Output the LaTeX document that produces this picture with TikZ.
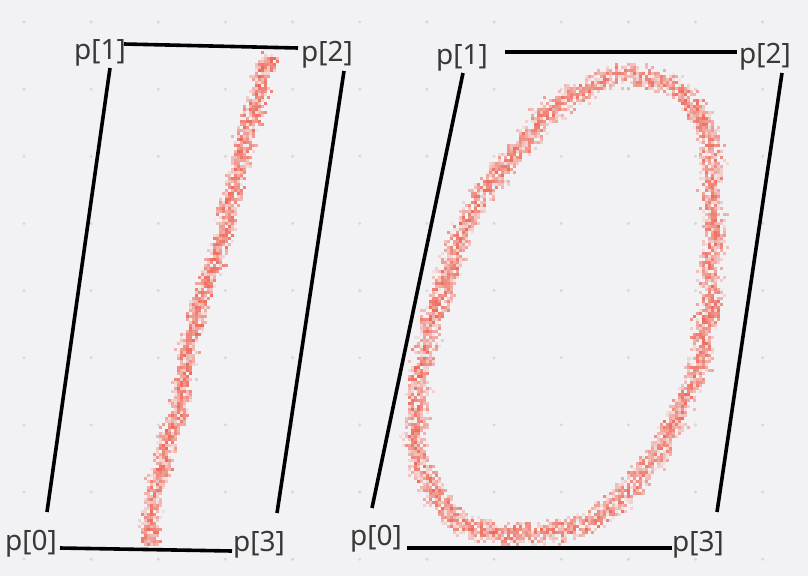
\documentclass[tikz,border=0pt]{standalone}
\usepackage{fontspec}
\setmainfont{Noto Sans}
\definecolor{bg}{HTML}{F2F2F4}
\definecolor{dotc}{HTML}{D9D9DC}
\definecolor{lab}{HTML}{383838}
\definecolor{ink}{RGB}{240,104,88}
\gdef\wwg{0}
\begin{document}
\begin{tikzpicture}[x=1pt,y=-1pt,
  edge/.style={line width=3.6pt, black},
  lbl/.style={font=\fontsize{28}{28}\selectfont, text=lab, inner sep=0pt, anchor=base},
  pix/.style={fill=ink}]
\pgfmathsetseed{4242}
\useasboundingbox (0,0) rectangle (808,576);
\fill[bg] (0,0) rectangle (808,576);
\foreach \i in {0,...,11} \foreach \j in {0,...,8} \fill[dotc] ({24+67.15*\i},{22+67.15*\j}) circle (1.7pt);

% noisy stroke, left
\foreach \x/\y [remember=\x as \px (initially 147), remember=\y as \py (initially 545)] in
  {147/530, 150/503, 160/470, 165/437, 177/417, 182/383, 188/350, 195/323, 203/297, 210/267, 220/240, 227/213, 233/187, 240/160, 241/140, 247/120, 253/100, 263/73, 270/55}{
  \pgfmathsetmacro\len{veclen(\x-\px,\y-\py)}
  \pgfmathtruncatemacro\nn{max(1,round(\len/1.8))}
  \pgfmathsetmacro\nnx{-(\y-\py)/\len}
  \pgfmathsetmacro\nny{(\x-\px)/\len}
  \foreach \s in {1,...,\nn}{
    \pgfmathsetmacro\ww{max(-6,min(6,0.9*\wwg+1.3*rand))}
    \global\let\wwg\ww
    \pgfmathsetmacro\cx{\px+(\x-\px)*\s/\nn}
    \pgfmathsetmacro\cy{\py+(\y-\py)*\s/\nn}
    \pgfmathsetmacro\gop{0.55+0.7*rnd}
    \foreach \k in {1,...,7}{
      \pgfmathsetmacro\dd{\ww+5.5*(rand+rand)}
      \pgfmathsetmacro\qx{3*round((\cx+\dd*\nnx+2*rand)/3)}
      \pgfmathsetmacro\qy{3*round((\cy+\dd*\nny+2*rand)/3)}
      \pgfmathsetmacro\op{min(0.85,\gop*(0.12+0.55*rnd))}
      \fill[pix,fill opacity=\op] (\qx,\qy) rectangle ++(3,3);
    }
  }
}
% noisy stroke, loop
\gdef\wwg{0}
\foreach \x/\y [remember=\x as \px (initially 637), remember=\y as \py (initially 73)] in
  {663/80, 690/100, 707/123, 712/157, 710/190, 712/223, 712/257, 709/297, 703/330, 697/367, 680/400, 667/433, 647/463, 617/500, 590/520, 563/530, 533/533, 500/533, 467/527, 440/507, 423/477, 413/440, 415/400, 418/363, 427/333, 438/292, 453/250, 467/217, 483/190, 500/163, 517/147, 543/113, 577/93, 603/78, 637/73}{
  \pgfmathsetmacro\len{veclen(\x-\px,\y-\py)}
  \pgfmathtruncatemacro\nn{max(1,round(\len/1.8))}
  \pgfmathsetmacro\nnx{-(\y-\py)/\len}
  \pgfmathsetmacro\nny{(\x-\px)/\len}
  \foreach \s in {1,...,\nn}{
    \pgfmathsetmacro\ww{max(-6,min(6,0.9*\wwg+1.3*rand))}
    \global\let\wwg\ww
    \pgfmathsetmacro\cx{\px+(\x-\px)*\s/\nn}
    \pgfmathsetmacro\cy{\py+(\y-\py)*\s/\nn}
    \pgfmathsetmacro\gop{0.55+0.7*rnd}
    \foreach \k in {1,...,7}{
      \pgfmathsetmacro\dd{\ww+6.5*(rand+rand)}
      \pgfmathsetmacro\qx{3*round((\cx+\dd*\nnx+2*rand)/3)}
      \pgfmathsetmacro\qy{3*round((\cy+\dd*\nny+2*rand)/3)}
      \pgfmathsetmacro\op{min(0.85,\gop*(0.12+0.55*rnd))}
      \fill[pix,fill opacity=\op] (\qx,\qy) rectangle ++(3,3);
    }
  }
}

% left quad labels
\node[lbl] (L1) at (100,59) {p[1]};
\node[lbl] (L2) at (327,61) {p[2]};
\node[lbl] (L0) at (31,550) {p[0]};
\node[lbl] (L3) at (259,551) {p[3]};
% right quad labels
\node[lbl] (R1) at (462,64) {p[1]};
\node[lbl] (R2) at (765,63) {p[2]};
\node[lbl] (R0) at (376,545) {p[0]};
\node[lbl] (R3) at (698,551) {p[3]};

% left quad edges
\coordinate (la1) at (124,44); \coordinate (la2) at (298,48);
\coordinate (lb1) at (110,68); \coordinate (lb2) at (47,512);
\coordinate (lc1) at (60,548); \coordinate (lc2) at (232,551);
\coordinate (ld1) at (344,71); \coordinate (ld2) at (277,513);
\draw[edge] (la1) -- (la2);
\draw[edge] (lb1) -- (lb2);
\draw[edge] (lc1) -- (lc2);
\draw[edge] (ld1) -- (ld2);
% right quad edges
\coordinate (ra1) at (505,52); \coordinate (ra2) at (737,52);
\coordinate (rb1) at (463,73); \coordinate (rb2) at (372,508);
\coordinate (rc1) at (407,548); \coordinate (rc2) at (672,548);
\coordinate (rd1) at (782,73); \coordinate (rd2) at (717,512);
\draw[edge] (ra1) -- (ra2);
\draw[edge] (rb1) -- (rb2);
\draw[edge] (rc1) -- (rc2);
\draw[edge] (rd1) -- (rd2);
\end{tikzpicture}
\end{document}
